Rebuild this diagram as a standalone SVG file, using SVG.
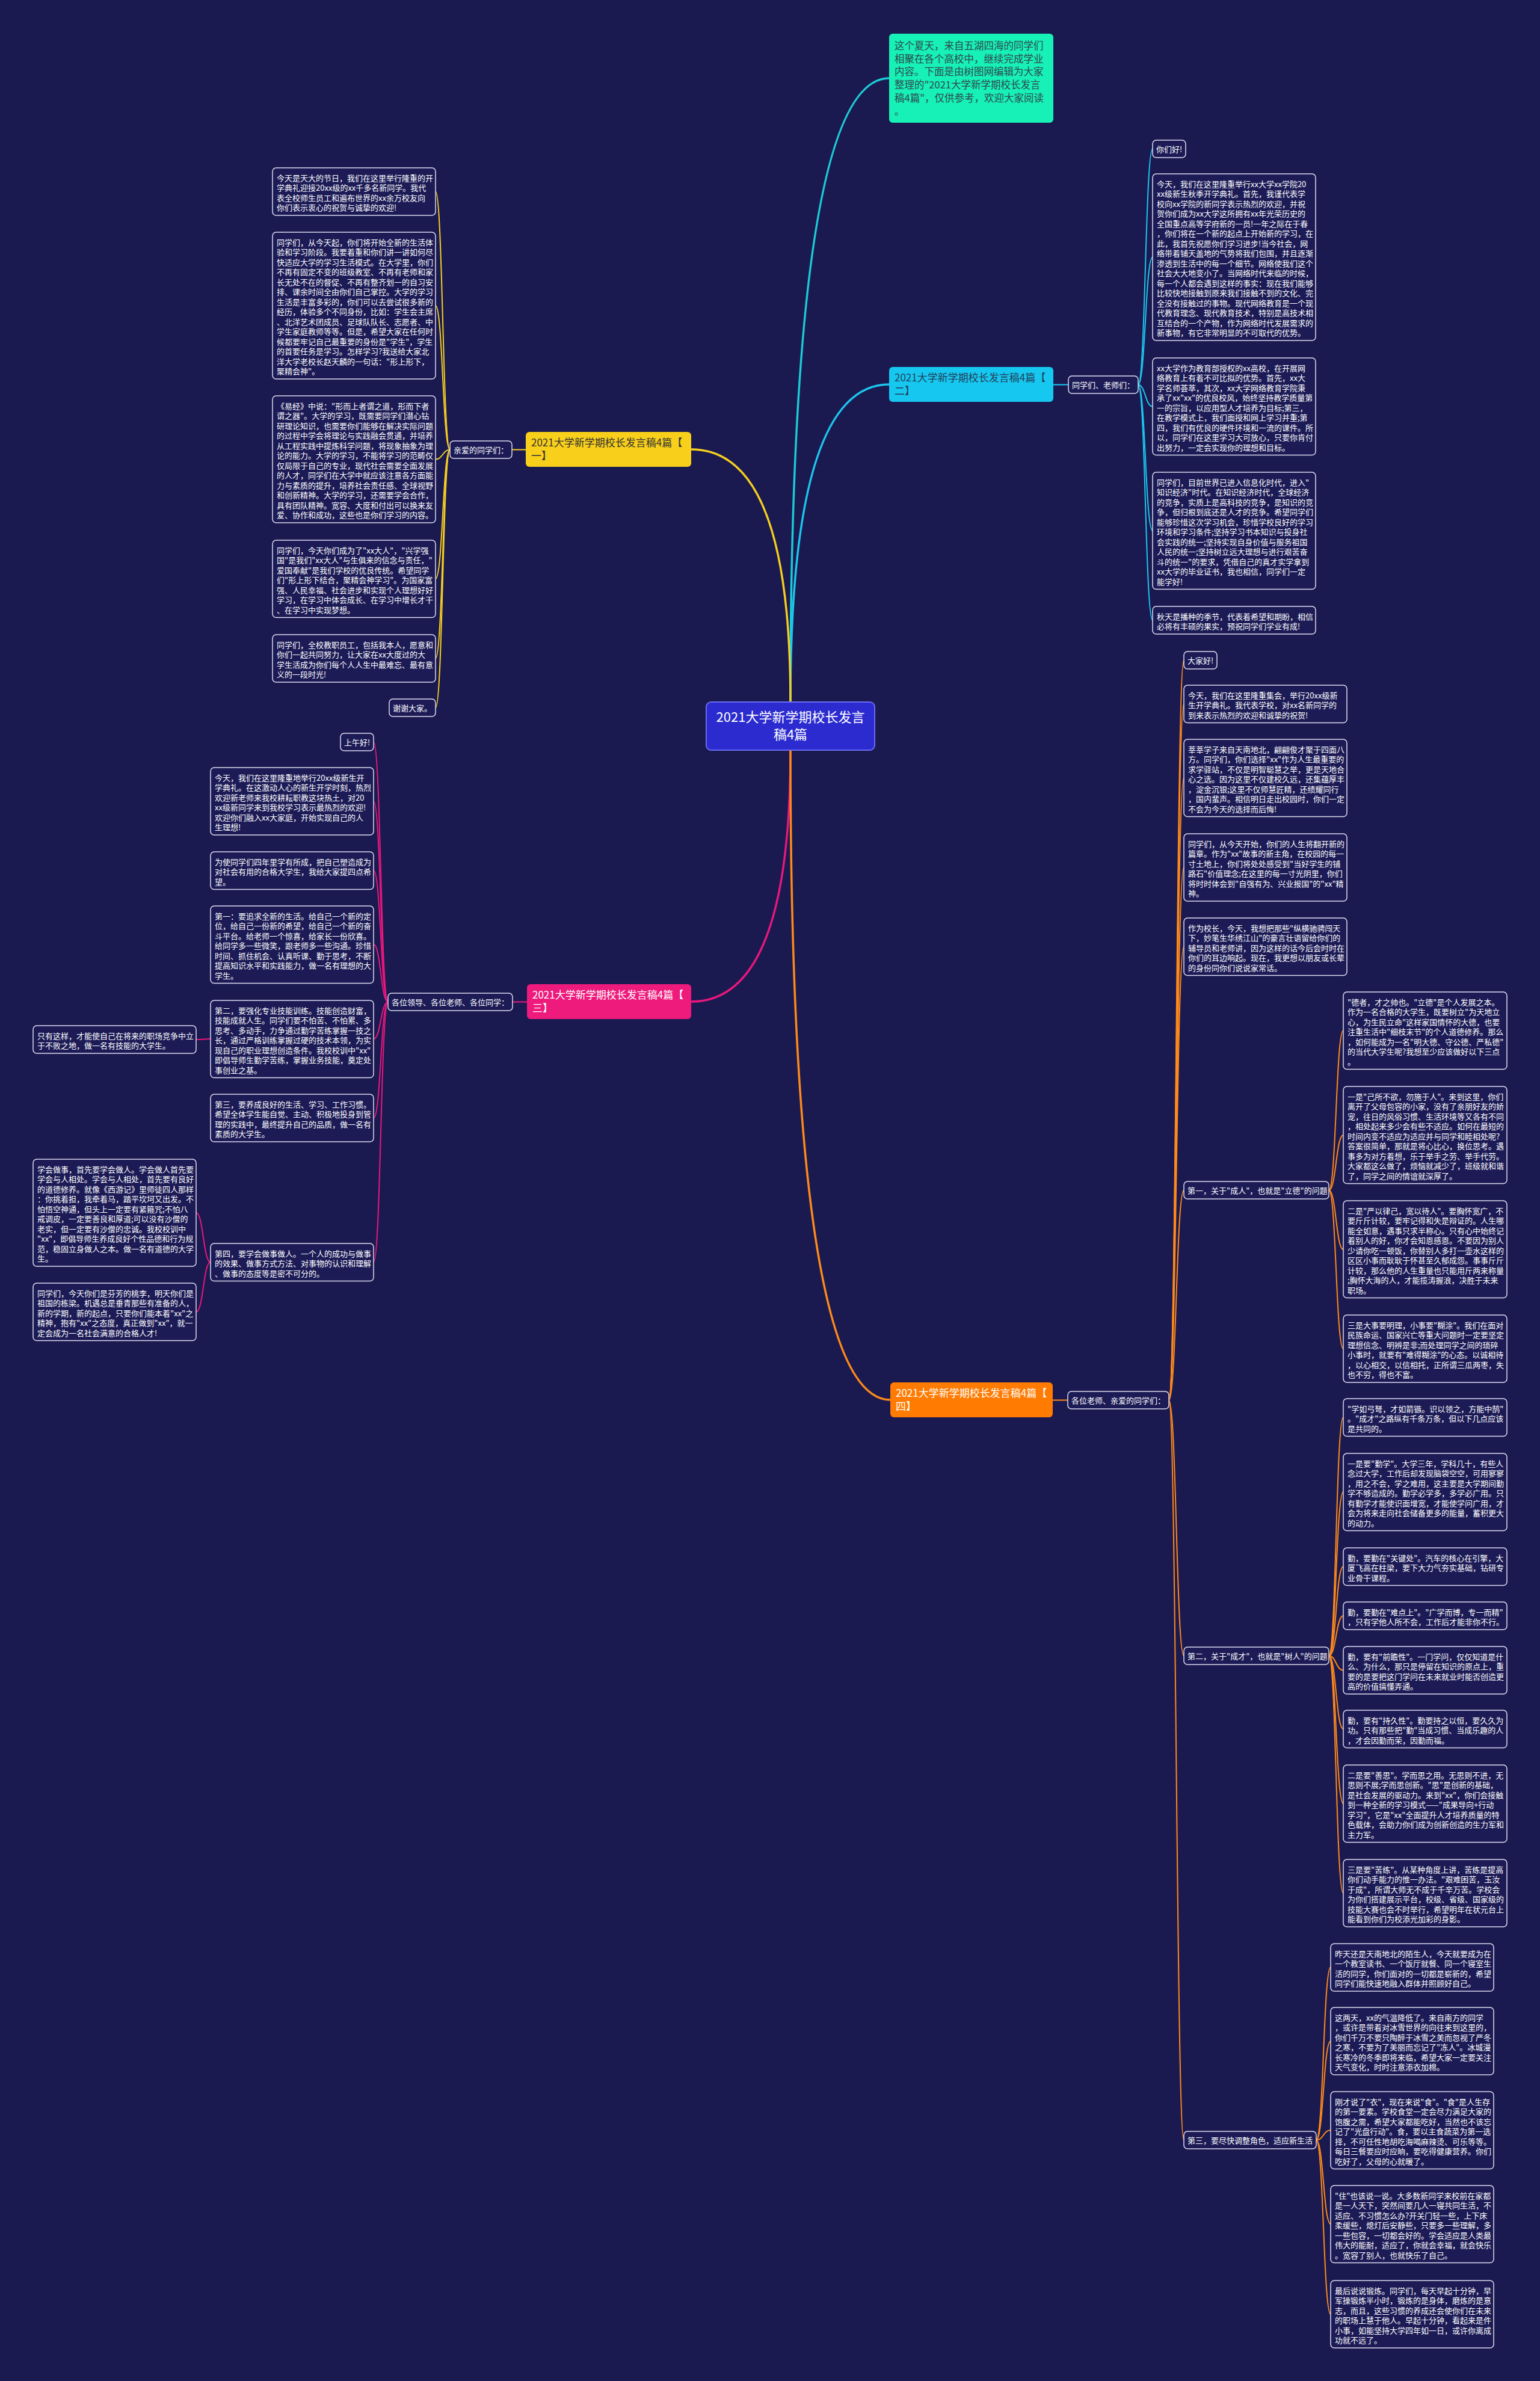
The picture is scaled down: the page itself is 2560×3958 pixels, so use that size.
<svg xmlns="http://www.w3.org/2000/svg" width="2560" height="3958" viewBox="0 0 2560 3958">
<style>
.bg{fill:#1b1a50}
.box{fill:#1c1b56;stroke:#dcdcf0;stroke-width:1.5}
.t{font-family:"Noto Sans CJK SC","Noto Sans",sans-serif;font-size:13px;fill:#ffffff}
.bt{font-family:"Noto Sans CJK SC","Noto Sans",sans-serif;font-size:17px}
.cy{fill:none;stroke:#1bc6ee;stroke-width:2}
.ye{fill:none;stroke:#f5cf1f;stroke-width:2}
.pk{fill:none;stroke:#e8177d;stroke-width:2}
.or{fill:none;stroke:#ff8a1a;stroke-width:2}
.main{stroke-width:3.5}
</style>
<rect class="bg" x="0" y="0" width="2560" height="3958"/>

<g id="connectors">
<path class="cy main" style="stroke:#1ccbd6" d="M1314 1167 Q1314 130 1478 130"/>
<path class="cy main" d="M1314 1167 Q1314 639 1478 639"/>
<path class="ye main" d="M1314 1167 Q1314 747 1149 747"/>
<path class="pk main" d="M1314 1247 Q1314 1665 1149 1665"/>
<path class="or main" d="M1314 1247 Q1314 2327 1480 2327"/>

<path class="cy" d="M1751 639.5 L1776 639.5"/>
<path class="cy" d="M1892 639.5 C1904 639.5 1904 247.5 1916 247.5"/>
<path class="cy" d="M1892 639.5 C1904 639.5 1904 427.5 1916 427.5"/>
<path class="cy" d="M1892 639.5 C1904 639.5 1904 675.7 1916 675.7"/>
<path class="cy" d="M1892 639.5 C1904 639.5 1904 882 1916 882"/>
<path class="cy" d="M1892 639.5 C1904 639.5 1904 1031 1916 1031"/>

<path class="ye" d="M874 747.5 L851 747.5"/>
<path class="ye" d="M748 747.5 C736 747.5 736 318.5 724 318.5"/>
<path class="ye" d="M748 747.5 C736 747.5 736 508 724 508"/>
<path class="ye" d="M748 747.5 C736 747.5 736 763.5 724 763.5"/>
<path class="ye" d="M748 747.5 C736 747.5 736 962 724 962"/>
<path class="ye" d="M748 747.5 C736 747.5 736 1094.5 724 1094.5"/>
<path class="ye" d="M748 747.5 C736 747.5 736 1176.5 724 1176.5"/>

<path class="pk" d="M876 1665.5 L852 1665.5"/>
<path class="pk" d="M645 1665.5 C633 1665.5 633 1233.5 621 1233.5"/>
<path class="pk" d="M645 1665.5 C633 1665.5 633 1332 621 1332"/>
<path class="pk" d="M645 1665.5 C633 1665.5 633 1447 621 1447"/>
<path class="pk" d="M645 1665.5 C633 1665.5 633 1570 621 1570"/>
<path class="pk" d="M645 1665.5 C633 1665.5 633 1727 621 1727"/>
<path class="pk" d="M645 1665.5 C633 1665.5 633 1858.5 621 1858.5"/>
<path class="pk" d="M645 1665.5 C633 1665.5 633 2098 621 2098"/>
<path class="pk" d="M350 1727 C338 1727 338 1728 326 1728"/>
<path class="pk" d="M350 2098 C338 2098 338 2016 326 2016"/>
<path class="pk" d="M350 2098 C338 2098 338 2181 326 2181"/>

<path class="or" d="M1750 2327.5 L1775 2327.5"/>
<path class="or" d="M1943 2327.5 C1955.5 2327.5 1955.5 1097.5 1968 1097.5"/>
<path class="or" d="M1943 2327.5 C1955.5 2327.5 1955.5 1170 1968 1170"/>
<path class="or" d="M1943 2327.5 C1955.5 2327.5 1955.5 1293 1968 1293"/>
<path class="or" d="M1943 2327.5 C1955.5 2327.5 1955.5 1442 1968 1442"/>
<path class="or" d="M1943 2327.5 C1955.5 2327.5 1955.5 1574 1968 1574"/>
<path class="or" d="M1943 2327.5 C1955.5 2327.5 1955.5 1978.5 1968 1978.5"/>
<path class="or" d="M1943 2327.5 C1955.5 2327.5 1955.5 2752.5 1968 2752.5"/>
<path class="or" d="M1943 2327.5 C1955.5 2327.5 1955.5 3557.5 1968 3557.5"/>
<path class="or" d="M2209 1978.5 C2221 1978.5 2221 1713 2233 1713"/>
<path class="or" d="M2209 1978.5 C2221 1978.5 2221 1887 2233 1887"/>
<path class="or" d="M2209 1978.5 C2221 1978.5 2221 2077 2233 2077"/>
<path class="or" d="M2209 1978.5 C2221 1978.5 2221 2242 2233 2242"/>
<path class="or" d="M2209 2752.5 C2221 2752.5 2221 2356 2233 2356"/>
<path class="or" d="M2209 2752.5 C2221 2752.5 2221 2480 2233 2480"/>
<path class="or" d="M2209 2752.5 C2221 2752.5 2221 2604 2233 2604"/>
<path class="or" d="M2209 2752.5 C2221 2752.5 2221 2686 2233 2686"/>
<path class="or" d="M2209 2752.5 C2221 2752.5 2221 2776.5 2233 2776.5"/>
<path class="or" d="M2209 2752.5 C2221 2752.5 2221 2874 2233 2874"/>
<path class="or" d="M2209 2752.5 C2221 2752.5 2221 2998 2233 2998"/>
<path class="or" d="M2209 2752.5 C2221 2752.5 2221 3147 2233 3147"/>
<path class="or" d="M2188 3557.5 C2200 3557.5 2200 3270 2212 3270"/>
<path class="or" d="M2188 3557.5 C2200 3557.5 2200 3393 2212 3393"/>
<path class="or" d="M2188 3557.5 C2200 3557.5 2200 3541 2212 3541"/>
<path class="or" d="M2188 3557.5 C2200 3557.5 2200 3697 2212 3697"/>
<path class="or" d="M2188 3557.5 C2200 3557.5 2200 3847 2212 3847"/>
</g>

<g id="center">
<rect x="1174" y="1167" width="280" height="80" rx="8" fill="#2b2bcf" stroke="#6a6af5" stroke-width="2"/>
<text font-family="Noto Sans CJK SC, Noto Sans, sans-serif" font-size="22" fill="#ffffff" text-anchor="middle"><tspan x="1314" y="1200">2021大学新学期校长发言</tspan><tspan x="1314" y="1229">稿4篇</tspan></text>
</g>

<g id="intro">
<rect x="1478" y="56" width="273" height="148" rx="6" fill="#17f0b6"/>
<text font-family="Noto Sans CJK SC, Noto Sans, sans-serif" font-size="16.5" fill="#2f4a4f"><tspan x="1487" y="82">这个夏天，来自五湖四海的同学们</tspan><tspan x="1487" y="103.7">相聚在各个高校中，继续完成学业</tspan><tspan x="1487" y="125.4">内容。下面是由树图网编辑为大家</tspan><tspan x="1487" y="147.1">整理的"2021大学新学期校长发言</tspan><tspan x="1487" y="168.8">稿4篇"，仅供参考，欢迎大家阅读</tspan><tspan x="1487" y="190.5">。</tspan></text>
</g>

<g id="branch2">
<rect x="1478" y="610" width="273" height="58" rx="6" fill="#16c8f0"/>
<text class="bt" fill="#24405c"><tspan x="1487" y="634">2021大学新学期校长发言稿4篇【</tspan><tspan x="1487" y="656">二】</tspan></text>
</g>
<g id="b2-label"><rect class="box" x="1776" y="625" width="116" height="29" rx="6"/><text class="t" x="1782" y="644.5">同学们、老师们：</text></g>
<g id="b2-hello"><rect class="box" x="1916" y="233" width="55" height="29" rx="6"/><text class="t" x="1922" y="252.5">你们好!</text></g>
<g id="b2-p1"><rect class="box" x="1916" y="289" width="271" height="277" rx="6"/>
<text class="t"><tspan x="1923" y="310.5">今天，我们在这里隆重举行xx大学xx学院20</tspan><tspan x="1923" dy="16.5">xx级新生秋季开学典礼。首先，我谨代表学</tspan><tspan x="1923" dy="16.5">校向xx学院的新同学表示热烈的欢迎，并祝</tspan><tspan x="1923" dy="16.5">贺你们成为xx大学这所拥有xx年光荣历史的</tspan><tspan x="1923" dy="16.5">全国重点高等学府新的一员!一年之际在于春</tspan><tspan x="1923" dy="16.5">，你们将在一个新的起点上开始新的学习，在</tspan><tspan x="1923" dy="16.5">此，我首先祝愿你们学习进步!当今社会，网</tspan><tspan x="1923" dy="16.5">络带着铺天盖地的气势将我们包围，并且逐渐</tspan><tspan x="1923" dy="16.5">渗透到生活中的每一个细节。网络使我们这个</tspan><tspan x="1923" dy="16.5">社会大大地变小了。当网络时代来临的时候，</tspan><tspan x="1923" dy="16.5">每一个人都会遇到这样的事实：现在我们能够</tspan><tspan x="1923" dy="16.5">比较快地接触到原来我们接触不到的文化、完</tspan><tspan x="1923" dy="16.5">全没有接触过的事物。现代网络教育是一个现</tspan><tspan x="1923" dy="16.5">代教育理念、现代教育技术，特别是高技术相</tspan><tspan x="1923" dy="16.5">互结合的一个产物，作为网络时代发展需求的</tspan><tspan x="1923" dy="16.5">新事物，有它非常明显的不可取代的优势。</tspan></text></g>
<g id="b2-p2"><rect class="box" x="1916" y="595" width="271" height="161.5" rx="6"/>
<text class="t"><tspan x="1923" y="616.5">xx大学作为教育部授权的xx高校，在开展网</tspan><tspan x="1923" dy="16.5">络教育上有着不可比拟的优势。首先，xx大</tspan><tspan x="1923" dy="16.5">学名师荟萃，其次，xx大学网络教育学院秉</tspan><tspan x="1923" dy="16.5">承了xx"xx"的优良校风，始终坚持教学质量第</tspan><tspan x="1923" dy="16.5">一的宗旨，以应用型人才培养为目标;第三，</tspan><tspan x="1923" dy="16.5">在教学模式上，我们面授和网上学习并重;第</tspan><tspan x="1923" dy="16.5">四，我们有优良的硬件环境和一流的课件。所</tspan><tspan x="1923" dy="16.5">以，同学们在这里学习大可放心，只要你肯付</tspan><tspan x="1923" dy="16.5">出努力，一定会实现你的理想和目标。</tspan></text></g>
<g id="b2-p3"><rect class="box" x="1916" y="785" width="271" height="194.5" rx="6"/>
<text class="t"><tspan x="1923" y="806.5">同学们，目前世界已进入信息化时代，进入"</tspan><tspan x="1923" dy="16.5">知识经济"时代。在知识经济时代，全球经济</tspan><tspan x="1923" dy="16.5">的竞争，实质上是高科技的竞争，是知识的竞</tspan><tspan x="1923" dy="16.5">争，但归根到底还是人才的竞争。希望同学们</tspan><tspan x="1923" dy="16.5">能够珍惜这次学习机会，珍惜学校良好的学习</tspan><tspan x="1923" dy="16.5">环境和学习条件;坚持学习书本知识与投身社</tspan><tspan x="1923" dy="16.5">会实践的统一;坚持实现自身价值与服务祖国</tspan><tspan x="1923" dy="16.5">人民的统一;坚持树立远大理想与进行艰苦奋</tspan><tspan x="1923" dy="16.5">斗的统一"的要求，凭借自己的真才实学拿到</tspan><tspan x="1923" dy="16.5">xx大学的毕业证书，我也相信，同学们一定</tspan><tspan x="1923" dy="16.5">能学好!</tspan></text></g>
<g id="b2-p4"><rect class="box" x="1916" y="1008" width="271" height="46" rx="6"/>
<text class="t"><tspan x="1923" y="1029.5">秋天是播种的季节，代表着希望和期盼，相信</tspan><tspan x="1923" dy="16.5">必将有丰硕的果实，预祝同学们学业有成!</tspan></text></g>

<g id="branch1">
<rect x="874" y="718" width="275" height="58" rx="6" fill="#f8cf1a"/>
<text class="bt" fill="#333333"><tspan x="883" y="742">2021大学新学期校长发言稿4篇【</tspan><tspan x="883" y="764">一】</tspan></text>
</g>
<g id="b1-label"><rect class="box" x="748" y="733" width="103" height="29" rx="6"/><text class="t" x="754" y="752.5">亲爱的同学们：</text></g>
<g id="b1-p1"><rect class="box" x="453" y="279" width="271" height="79" rx="6"/>
<text class="t"><tspan x="460" y="300.5">今天是天大的节日，我们在这里举行隆重的开</tspan><tspan x="460" dy="16.5">学典礼迎接20xx级的xx千多名新同学。我代</tspan><tspan x="460" dy="16.5">表全校师生员工和遍布世界的xx余万校友向</tspan><tspan x="460" dy="16.5">你们表示衷心的祝贺与诚挚的欢迎!</tspan></text></g>
<g id="b1-p2"><rect class="box" x="453" y="386" width="271" height="244" rx="6"/>
<text class="t"><tspan x="460" y="407.5">同学们，从今天起，你们将开始全新的生活体</tspan><tspan x="460" dy="16.5">验和学习阶段。我要着重和你们讲一讲如何尽</tspan><tspan x="460" dy="16.5">快适应大学的学习生活模式。在大学里，你们</tspan><tspan x="460" dy="16.5">不再有固定不变的班级教室、不再有老师和家</tspan><tspan x="460" dy="16.5">长无处不在的督促、不再有整齐划一的自习安</tspan><tspan x="460" dy="16.5">排、课余时间全由你们自己掌控。大学的学习</tspan><tspan x="460" dy="16.5">生活是丰富多彩的，你们可以去尝试很多新的</tspan><tspan x="460" dy="16.5">经历，体验多个不同身份，比如：学生会主席</tspan><tspan x="460" dy="16.5">、北洋艺术团成员、足球队队长、志愿者、中</tspan><tspan x="460" dy="16.5">学生家庭教师等等。但是，希望大家在任何时</tspan><tspan x="460" dy="16.5">候都要牢记自己最重要的身份是"学生"，学生</tspan><tspan x="460" dy="16.5">的首要任务是学习。怎样学习?我送给大家北</tspan><tspan x="460" dy="16.5">洋大学老校长赵天麟的一句话："形上形下，</tspan><tspan x="460" dy="16.5">聚精会神"。</tspan></text></g>
<g id="b1-p3"><rect class="box" x="453" y="658" width="271" height="211" rx="6"/>
<text class="t"><tspan x="460" y="679.5">《易经》中说："形而上者谓之道，形而下者</tspan><tspan x="460" dy="16.5">谓之器"。大学的学习，既需要同学们潜心钻</tspan><tspan x="460" dy="16.5">研理论知识，也需要你们能够在解决实际问题</tspan><tspan x="460" dy="16.5">的过程中学会将理论与实践融会贯通，并培养</tspan><tspan x="460" dy="16.5">从工程实践中提炼科学问题，将现象抽象为理</tspan><tspan x="460" dy="16.5">论的能力。大学的学习，不能将学习的范畴仅</tspan><tspan x="460" dy="16.5">仅局限于自己的专业，现代社会需要全面发展</tspan><tspan x="460" dy="16.5">的人才，同学们在大学中就应该注意各方面能</tspan><tspan x="460" dy="16.5">力与素质的提升，培养社会责任感、全球视野</tspan><tspan x="460" dy="16.5">和创新精神。大学的学习，还需要学会合作，</tspan><tspan x="460" dy="16.5">具有团队精神。宽容、大度和付出可以换来友</tspan><tspan x="460" dy="16.5">爱、协作和成功，这些也是你们学习的内容。</tspan></text></g>
<g id="b1-p4"><rect class="box" x="453" y="898" width="271" height="128.5" rx="6"/>
<text class="t"><tspan x="460" y="919.5">同学们，今天你们成为了"xx大人"，"兴学强</tspan><tspan x="460" dy="16.5">国"是我们"xx大人"与生俱来的信念与责任，"</tspan><tspan x="460" dy="16.5">爱国奉献"是我们学校的优良传统。希望同学</tspan><tspan x="460" dy="16.5">们"形上形下结合，聚精会神学习"。为国家富</tspan><tspan x="460" dy="16.5">强、人民幸福、社会进步和实现个人理想好好</tspan><tspan x="460" dy="16.5">学习，在学习中体会成长、在学习中增长才干</tspan><tspan x="460" dy="16.5">、在学习中实现梦想。</tspan></text></g>
<g id="b1-p5"><rect class="box" x="453" y="1055" width="271" height="79" rx="6"/>
<text class="t"><tspan x="460" y="1076.5">同学们，全校教职员工，包括我本人，愿意和</tspan><tspan x="460" dy="16.5">你们一起共同努力，让大家在xx大度过的大</tspan><tspan x="460" dy="16.5">学生活成为你们每个人人生中最难忘、最有意</tspan><tspan x="460" dy="16.5">义的一段时光!</tspan></text></g>
<g id="b1-thanks"><rect class="box" x="647" y="1162" width="77" height="29" rx="6"/><text class="t" x="653" y="1181.5">谢谢大家。</text></g>

<g id="branch3">
<rect x="876" y="1636" width="273" height="58" rx="6" fill="#ee1a7c"/>
<text class="bt" fill="#ffffff"><tspan x="885" y="1660">2021大学新学期校长发言稿4篇【</tspan><tspan x="885" y="1682">三】</tspan></text>
</g>
<g id="b3-label"><rect class="box" x="645" y="1651" width="207" height="29" rx="6"/><text class="t" x="651" y="1670.5">各位领导、各位老师、各位同学：</text></g>
<g id="b3-hello"><rect class="box" x="566" y="1219" width="55" height="29" rx="6"/><text class="t" x="572" y="1238.5">上午好!</text></g>
<g id="b3-p1"><rect class="box" x="350" y="1276" width="271" height="112" rx="6"/>
<text class="t"><tspan x="357" y="1297.5">今天，我们在这里隆重地举行20xx级新生开</tspan><tspan x="357" dy="16.5">学典礼。在这激动人心的新生开学时刻，热烈</tspan><tspan x="357" dy="16.5">欢迎新老师来我校耕耘职教这块热土，对20</tspan><tspan x="357" dy="16.5">xx级新同学来到我校学习表示最热烈的欢迎!</tspan><tspan x="357" dy="16.5">欢迎你们融入xx大家庭，开始实现自己的人</tspan><tspan x="357" dy="16.5">生理想!</tspan></text></g>
<g id="b3-p2"><rect class="box" x="350" y="1416" width="271" height="62.5" rx="6"/>
<text class="t"><tspan x="357" y="1437.5">为使同学们四年里学有所成，把自己塑造成为</tspan><tspan x="357" dy="16.5">对社会有用的合格大学生，我给大家提四点希</tspan><tspan x="357" dy="16.5">望。</tspan></text></g>
<g id="b3-p3"><rect class="box" x="350" y="1506" width="271" height="128.5" rx="6"/>
<text class="t"><tspan x="357" y="1527.5">第一：要追求全新的生活。给自己一个新的定</tspan><tspan x="357" dy="16.5">位，给自己一份新的希望，给自己一个新的奋</tspan><tspan x="357" dy="16.5">斗平台。给老师一个惊喜，给家长一份欣喜。</tspan><tspan x="357" dy="16.5">给同学多一些微笑，跟老师多一些沟通。珍惜</tspan><tspan x="357" dy="16.5">时间、抓住机会、认真听课、勤于思考，不断</tspan><tspan x="357" dy="16.5">提高知识水平和实践能力，做一名有理想的大</tspan><tspan x="357" dy="16.5">学生。</tspan></text></g>
<g id="b3-p4"><rect class="box" x="350" y="1663" width="271" height="128.5" rx="6"/>
<text class="t"><tspan x="357" y="1684.5">第二，要强化专业技能训练。技能创造财富，</tspan><tspan x="357" dy="16.5">技能成就人生。同学们要不怕苦、不怕累、多</tspan><tspan x="357" dy="16.5">思考、多动手，力争通过勤学苦练掌握一技之</tspan><tspan x="357" dy="16.5">长，通过严格训练掌握过硬的技术本领，为实</tspan><tspan x="357" dy="16.5">现自己的职业理想创造条件。我校校训中"xx"</tspan><tspan x="357" dy="16.5">即倡导师生勤学苦练，掌握业务技能，奠定处</tspan><tspan x="357" dy="16.5">事创业之基。</tspan></text></g>
<g id="b3-p4a"><rect class="box" x="55" y="1705" width="271" height="46" rx="6"/>
<text class="t"><tspan x="62" y="1726.5">只有这样，才能使自己在将来的职场竞争中立</tspan><tspan x="62" dy="16.5">于不败之地，做一名有技能的大学生。</tspan></text></g>
<g id="b3-p5"><rect class="box" x="350" y="1819" width="271" height="79" rx="6"/>
<text class="t"><tspan x="357" y="1840.5">第三，要养成良好的生活、学习、工作习惯。</tspan><tspan x="357" dy="16.5">希望全体学生能自觉、主动、积极地投身到管</tspan><tspan x="357" dy="16.5">理的实践中，最终提升自己的品质，做一名有</tspan><tspan x="357" dy="16.5">素质的大学生。</tspan></text></g>
<g id="b3-p6"><rect class="box" x="350" y="2067" width="271" height="62.5" rx="6"/>
<text class="t"><tspan x="357" y="2088.5">第四，要学会做事做人。一个人的成功与做事</tspan><tspan x="357" dy="16.5">的效果、做事方式方法、对事物的认识和理解</tspan><tspan x="357" dy="16.5">、做事的态度等是密不可分的。</tspan></text></g>
<g id="b3-p6a"><rect class="box" x="55" y="1927" width="271" height="178" rx="6"/>
<text class="t"><tspan x="62" y="1948.5">学会做事，首先要学会做人。学会做人首先要</tspan><tspan x="62" dy="16.5">学会与人相处。学会与人相处，首先要有良好</tspan><tspan x="62" dy="16.5">的道德修养。就像《西游记》里师徒四人那样</tspan><tspan x="62" dy="16.5">：你挑着担，我牵着马，踏平坎坷又出发。不</tspan><tspan x="62" dy="16.5">怕悟空神通，但头上一定要有紧箍咒;不怕八</tspan><tspan x="62" dy="16.5">戒调皮，一定要善良和厚道;可以没有沙僧的</tspan><tspan x="62" dy="16.5">老实，但一定要有沙僧的忠诚。我校校训中</tspan><tspan x="62" dy="16.5">"xx"，即倡导师生养成良好个性品德和行为规</tspan><tspan x="62" dy="16.5">范，稳固立身做人之本。做一名有道德的大学</tspan><tspan x="62" dy="16.5">生。</tspan></text></g>
<g id="b3-p6b"><rect class="box" x="55" y="2133" width="271" height="95.5" rx="6"/>
<text class="t"><tspan x="62" y="2154.5">同学们，今天你们是芬芳的桃李，明天你们是</tspan><tspan x="62" dy="16.5">祖国的栋梁。机遇总是垂青那些有准备的人，</tspan><tspan x="62" dy="16.5">新的学期，新的起点，只要你们能本着"xx"之</tspan><tspan x="62" dy="16.5">精神，抱有"xx"之态度，真正做到"xx"，就一</tspan><tspan x="62" dy="16.5">定会成为一名社会满意的合格人才!</tspan></text></g>

<g id="branch4">
<rect x="1480" y="2298" width="270" height="58" rx="6" fill="#ff7b02"/>
<text class="bt" fill="#ffffff"><tspan x="1489" y="2322">2021大学新学期校长发言稿4篇【</tspan><tspan x="1489" y="2344">四】</tspan></text>
</g>
<g id="b4-label"><rect class="box" x="1775" y="2313" width="168" height="29" rx="6"/><text class="t" x="1781" y="2332.5">各位老师、亲爱的同学们：</text></g>
<g id="b4-hello"><rect class="box" x="1968" y="1083" width="55" height="29" rx="6"/><text class="t" x="1974" y="1102.5">大家好!</text></g>
<g id="b4-p1"><rect class="box" x="1968" y="1139" width="271" height="62.5" rx="6"/>
<text class="t"><tspan x="1975" y="1160.5">今天，我们在这里隆重集会，举行20xx级新</tspan><tspan x="1975" dy="16.5">生开学典礼。我代表学校，对xx名新同学的</tspan><tspan x="1975" dy="16.5">到来表示热烈的欢迎和诚挚的祝贺!</tspan></text></g>
<g id="b4-p2"><rect class="box" x="1968" y="1229" width="271" height="128.5" rx="6"/>
<text class="t"><tspan x="1975" y="1250.5">莘莘学子来自天南地北，翩翩俊才聚于四面八</tspan><tspan x="1975" dy="16.5">方。同学们，你们选择"xx"作为人生最重要的</tspan><tspan x="1975" dy="16.5">求学驿站，不仅是明智聪慧之举，更是天地合</tspan><tspan x="1975" dy="16.5">心之选。因为这里不仅建校久远，还集蕴厚丰</tspan><tspan x="1975" dy="16.5">，淀金沉银;这里不仅师慧匠精，还绩耀同行</tspan><tspan x="1975" dy="16.5">，国内蜚声。相信明日走出校园时，你们一定</tspan><tspan x="1975" dy="16.5">不会为今天的选择而后悔!</tspan></text></g>
<g id="b4-p3"><rect class="box" x="1968" y="1386" width="271" height="112" rx="6"/>
<text class="t"><tspan x="1975" y="1407.5">同学们，从今天开始，你们的人生将翻开新的</tspan><tspan x="1975" dy="16.5">篇章。作为"xx"故事的新主角，在校园的每一</tspan><tspan x="1975" dy="16.5">寸土地上，你们将处处感受到"当好学生的铺</tspan><tspan x="1975" dy="16.5">路石"价值理念;在这里的每一寸光阴里，你们</tspan><tspan x="1975" dy="16.5">将时时体会到"自强有为、兴业报国"的"xx"精</tspan><tspan x="1975" dy="16.5">神。</tspan></text></g>
<g id="b4-p4"><rect class="box" x="1968" y="1526" width="271" height="95.5" rx="6"/>
<text class="t"><tspan x="1975" y="1547.5">作为校长，今天，我想把那些"纵横驰骋闯天</tspan><tspan x="1975" dy="16.5">下，妙笔生华绣江山"的豪言壮语留给你们的</tspan><tspan x="1975" dy="16.5">辅导员和老师讲，因为这样的话今后会时时在</tspan><tspan x="1975" dy="16.5">你们的耳边响起。现在，我更想以朋友或长辈</tspan><tspan x="1975" dy="16.5">的身份同你们说说家常话。</tspan></text></g>

<g id="b4-first"><rect class="box" x="1968" y="1964" width="241" height="29" rx="6"/><text class="t" x="1974" y="1983.5">第一，关于"成人"，也就是"立德"的问题</text></g>
<g id="f1"><rect class="box" x="2233" y="1649" width="272" height="128.5" rx="6"/>
<text class="t"><tspan x="2240" y="1670.5">"德者，才之帅也。"立德"是个人发展之本。</tspan><tspan x="2240" dy="16.5">作为一名合格的大学生，既要树立"为天地立</tspan><tspan x="2240" dy="16.5">心，为生民立命"这样家国情怀的大德，也要</tspan><tspan x="2240" dy="16.5">注重生活中"细枝末节"的个人道德修养。那么</tspan><tspan x="2240" dy="16.5">，如何能成为一名"明大德、守公德、严私德"</tspan><tspan x="2240" dy="16.5">的当代大学生呢?我想至少应该做好以下三点</tspan><tspan x="2240" dy="16.5">。</tspan></text></g>
<g id="f2"><rect class="box" x="2233" y="1806" width="272" height="161.5" rx="6"/>
<text class="t"><tspan x="2240" y="1827.5">一是"己所不欲，勿施于人"。来到这里，你们</tspan><tspan x="2240" dy="16.5">离开了父母包容的小家，没有了亲朋好友的娇</tspan><tspan x="2240" dy="16.5">宠，往日的风俗习惯、生活环境等又各有不同</tspan><tspan x="2240" dy="16.5">，相处起来多少会有些不适应。如何在最短的</tspan><tspan x="2240" dy="16.5">时间内变不适应为适应并与同学和睦相处呢?</tspan><tspan x="2240" dy="16.5">答案很简单，那就是将心比心，换位思考。遇</tspan><tspan x="2240" dy="16.5">事多为对方着想，乐于举手之劳、举手代劳。</tspan><tspan x="2240" dy="16.5">大家都这么做了，烦恼就减少了，班级就和谐</tspan><tspan x="2240" dy="16.5">了，同学之间的情谊就深厚了。</tspan></text></g>
<g id="f3"><rect class="box" x="2233" y="1996" width="272" height="161.5" rx="6"/>
<text class="t"><tspan x="2240" y="2017.5">二是"严以律己，宽以待人"。要胸怀宽广，不</tspan><tspan x="2240" dy="16.5">要斤斤计较，要牢记得和失是辩证的。人生哪</tspan><tspan x="2240" dy="16.5">能全如意，遇事只求半称心。只有心中始终记</tspan><tspan x="2240" dy="16.5">着别人的好，你才会知恩感恩。不要因为别人</tspan><tspan x="2240" dy="16.5">少请你吃一顿饭，你替别人多打一壶水这样的</tspan><tspan x="2240" dy="16.5">区区小事而耿耿于怀甚至久郁成怨。事事斤斤</tspan><tspan x="2240" dy="16.5">计较，那么他的人生重量也只能用斤两来称量</tspan><tspan x="2240" dy="16.5">;胸怀大海的人，才能揽涛握浪，决胜于未来</tspan><tspan x="2240" dy="16.5">职场。</tspan></text></g>
<g id="f4"><rect class="box" x="2233" y="2186" width="272" height="112" rx="6"/>
<text class="t"><tspan x="2240" y="2207.5">三是大事要明理，小事要"糊涂"。我们在面对</tspan><tspan x="2240" dy="16.5">民族命运、国家兴亡等重大问题时一定要坚定</tspan><tspan x="2240" dy="16.5">理想信念、明辨是非;而处理同学之间的琐碎</tspan><tspan x="2240" dy="16.5">小事时，就要有"难得糊涂"的心态。以诚相待</tspan><tspan x="2240" dy="16.5">，以心相交，以信相托，正所谓三瓜两枣，失</tspan><tspan x="2240" dy="16.5">也不穷，得也不富。</tspan></text></g>

<g id="b4-second"><rect class="box" x="1968" y="2738" width="241" height="29" rx="6"/><text class="t" x="1974" y="2757.5">第二，关于"成才"，也就是"树人"的问题</text></g>
<g id="s1"><rect class="box" x="2233" y="2325" width="272" height="62.5" rx="6"/>
<text class="t"><tspan x="2240" y="2346.5">"学如弓弩，才如箭镞。识以领之，方能中鹄"</tspan><tspan x="2240" dy="16.5">。"成才"之路纵有千条万条，但以下几点应该</tspan><tspan x="2240" dy="16.5">是共同的。</tspan></text></g>
<g id="s2"><rect class="box" x="2233" y="2416" width="272" height="128.5" rx="6"/>
<text class="t"><tspan x="2240" y="2437.5">一是要"勤学"。大学三年，学科几十，有些人</tspan><tspan x="2240" dy="16.5">念过大学，工作后却发现脑袋空空，可用寥寥</tspan><tspan x="2240" dy="16.5">，用之不会，学之难用，这主要是大学期间勤</tspan><tspan x="2240" dy="16.5">学不够造成的。勤学必学多，多学必广用。只</tspan><tspan x="2240" dy="16.5">有勤学才能使识面增宽，才能使学问广用，才</tspan><tspan x="2240" dy="16.5">会为将来走向社会储备更多的能量，蓄积更大</tspan><tspan x="2240" dy="16.5">的动力。</tspan></text></g>
<g id="s3"><rect class="box" x="2233" y="2573" width="272" height="62.5" rx="6"/>
<text class="t"><tspan x="2240" y="2594.5">勤，要勤在"关键处"。汽车的核心在引擎，大</tspan><tspan x="2240" dy="16.5">厦飞高在柱梁，要下大力气夯实基础，钻研专</tspan><tspan x="2240" dy="16.5">业骨干课程。</tspan></text></g>
<g id="s4"><rect class="box" x="2233" y="2663" width="272" height="46" rx="6"/>
<text class="t"><tspan x="2240" y="2684.5">勤，要勤在"难点上"。"广学而博，专一而精"</tspan><tspan x="2240" dy="16.5">，只有学他人所不会，工作后才能非你不行。</tspan></text></g>
<g id="s5"><rect class="box" x="2233" y="2737" width="272" height="79" rx="6"/>
<text class="t"><tspan x="2240" y="2758.5">勤，要有"前瞻性"。一门学问，仅仅知道是什</tspan><tspan x="2240" dy="16.5">么、为什么，那只是停留在知识的原点上，重</tspan><tspan x="2240" dy="16.5">要的是要把这门学问在未来就业时能否创造更</tspan><tspan x="2240" dy="16.5">高的价值搞懂弄通。</tspan></text></g>
<g id="s6"><rect class="box" x="2233" y="2843" width="272" height="62.5" rx="6"/>
<text class="t"><tspan x="2240" y="2864.5">勤，要有"持久性"。勤要持之以恒，要久久为</tspan><tspan x="2240" dy="16.5">功。只有那些把"勤"当成习惯、当成乐趣的人</tspan><tspan x="2240" dy="16.5">，才会因勤而荣，因勤而福。</tspan></text></g>
<g id="s7"><rect class="box" x="2233" y="2934" width="272" height="128.5" rx="6"/>
<text class="t"><tspan x="2240" y="2955.5">二是要"善思"。学而思之用。无思则不进，无</tspan><tspan x="2240" dy="16.5">思则不展;学而思创新。"思"是创新的基础，</tspan><tspan x="2240" dy="16.5">是社会发展的驱动力。来到"xx"，你们会接触</tspan><tspan x="2240" dy="16.5">到一种全新的学习模式——"成果导向+行动</tspan><tspan x="2240" dy="16.5">学习"，它是"xx"全面提升人才培养质量的特</tspan><tspan x="2240" dy="16.5">色载体，会助力你们成为创新创造的生力军和</tspan><tspan x="2240" dy="16.5">主力军。</tspan></text></g>
<g id="s8"><rect class="box" x="2233" y="3091" width="272" height="112" rx="6"/>
<text class="t"><tspan x="2240" y="3112.5">三是要"苦练"。从某种角度上讲，苦练是提高</tspan><tspan x="2240" dy="16.5">你们动手能力的惟一办法。"艰难困苦，玉汝</tspan><tspan x="2240" dy="16.5">于成"，所谓大师无不成于千辛万苦。学校会</tspan><tspan x="2240" dy="16.5">为你们搭建展示平台，校级、省级、国家级的</tspan><tspan x="2240" dy="16.5">技能大赛也会不时举行，希望明年在状元台上</tspan><tspan x="2240" dy="16.5">能看到你们为校添光加彩的身影。</tspan></text></g>

<g id="b4-third"><rect class="box" x="1968" y="3543" width="220" height="29" rx="6"/><text class="t" x="1974" y="3562.5">第三，要尽快调整角色，适应新生活</text></g>
<g id="t1"><rect class="box" x="2212" y="3231" width="271" height="79" rx="6"/>
<text class="t"><tspan x="2219" y="3252.5">昨天还是天南地北的陌生人，今天就要成为在</tspan><tspan x="2219" dy="16.5">一个教室读书、一个饭厅就餐、同一个寝室生</tspan><tspan x="2219" dy="16.5">活的同学，你们面对的一切都是崭新的，希望</tspan><tspan x="2219" dy="16.5">同学们能快速地融入群体并照顾好自己。</tspan></text></g>
<g id="t2"><rect class="box" x="2212" y="3337" width="271" height="112" rx="6"/>
<text class="t"><tspan x="2219" y="3358.5">这两天，xx的气温降低了。来自南方的同学</tspan><tspan x="2219" dy="16.5">，或许是带着对冰雪世界的向往来到这里的，</tspan><tspan x="2219" dy="16.5">你们千万不要只陶醉于冰雪之美而忽视了严冬</tspan><tspan x="2219" dy="16.5">之寒，不要为了美丽而忘记了"冻人"。冰城漫</tspan><tspan x="2219" dy="16.5">长寒冷的冬季即将来临，希望大家一定要关注</tspan><tspan x="2219" dy="16.5">天气变化，时时注意添衣加棉。</tspan></text></g>
<g id="t3"><rect class="box" x="2212" y="3477" width="271" height="128.5" rx="6"/>
<text class="t"><tspan x="2219" y="3498.5">刚才说了"衣"，现在来说"食"。"食"是人生存</tspan><tspan x="2219" dy="16.5">的第一要素。学校食堂一定会尽力满足大家的</tspan><tspan x="2219" dy="16.5">饱腹之需，希望大家都能吃好，当然也不该忘</tspan><tspan x="2219" dy="16.5">记了"光盘行动"。食，要以主食蔬菜为第一选</tspan><tspan x="2219" dy="16.5">择，不可任性地胡吃海喝麻辣烫、可乐等等。</tspan><tspan x="2219" dy="16.5">每日三餐要应时应晌，要吃得健康营养。你们</tspan><tspan x="2219" dy="16.5">吃好了，父母的心就暖了。</tspan></text></g>
<g id="t4"><rect class="box" x="2212" y="3633" width="271" height="128.5" rx="6"/>
<text class="t"><tspan x="2219" y="3654.5">"住"也该说一说。大多数新同学来校前在家都</tspan><tspan x="2219" dy="16.5">是一人天下，突然间要几人一寝共同生活，不</tspan><tspan x="2219" dy="16.5">适应、不习惯怎么办?开关门轻一些，上下床</tspan><tspan x="2219" dy="16.5">柔缓些，熄灯后安静些，只要多一些理解，多</tspan><tspan x="2219" dy="16.5">一些包容，一切都会好的。学会适应是人类最</tspan><tspan x="2219" dy="16.5">伟大的能耐，适应了，你就会幸福，就会快乐</tspan><tspan x="2219" dy="16.5">。宽容了别人，也就快乐了自己。</tspan></text></g>
<g id="t5"><rect class="box" x="2212" y="3791" width="271" height="112" rx="6"/>
<text class="t"><tspan x="2219" y="3812.5">最后说说锻炼。同学们，每天早起十分钟，早</tspan><tspan x="2219" dy="16.5">军操锻炼半小时，锻炼的是身体，磨炼的是意</tspan><tspan x="2219" dy="16.5">志，而且，这些习惯的养成还会使你们在未来</tspan><tspan x="2219" dy="16.5">的职场上慧于他人。早起十分钟，看起来是件</tspan><tspan x="2219" dy="16.5">小事，如能坚持大学四年如一日，或许你离成</tspan><tspan x="2219" dy="16.5">功就不远了。</tspan></text></g>
</svg>
